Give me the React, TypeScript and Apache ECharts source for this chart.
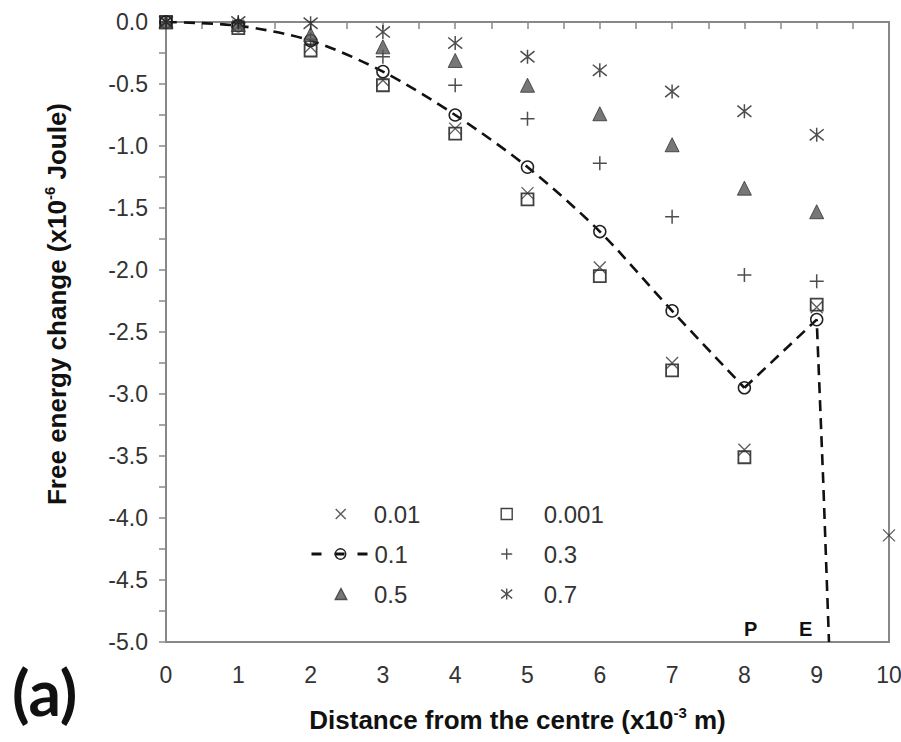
import React, { useEffect, useRef } from "react";
import * as echarts from "echarts";

// ---- data ----
const xs = [0, 1, 2, 3, 4, 5, 6, 7, 8, 9];
const xs10 = [0, 1, 2, 3, 4, 5, 6, 7, 8, 9, 10];
const s0_01 = [0, -0.03, -0.2, -0.47, -0.86, -1.38, -1.98, -2.75, -3.45, -2.3, -4.14];
const s0_001 = [0, -0.05, -0.23, -0.51, -0.9, -1.43, -2.05, -2.81, -3.51, -2.28];
const s0_1 = [0, -0.03, -0.15, -0.4, -0.75, -1.17, -1.69, -2.33, -2.95, -2.4];
const s0_3 = [0, -0.01, -0.14, -0.28, -0.51, -0.78, -1.14, -1.57, -2.04, -2.09];
const s0_5 = [0, -0.02, -0.1, -0.2, -0.31, -0.51, -0.74, -0.99, -1.34, -1.53];
const s0_7 = [0, 0, -0.01, -0.08, -0.17, -0.28, -0.39, -0.56, -0.72, -0.91];
// dashed curve of 0.1 after its last marker, down to the axis
const tailX = [9.09, 9.17];
const tailY = [-3.7, -5.0];

const FONT = "'Liberation Sans', Arial, sans-serif";
const INK = "#222";

const X_SYM = "path://M0,0L10,10M10,0L0,10";
const PLUS_SYM = "path://M5,0L5,10M0,5L10,5";
const AST_SYM = "path://M0,1L10,9M10,1L0,9M5,0L5,10";
const SQ_SYM = "path://M0,0L10,0L10,10L0,10Z";
const TRI_SYM = "path://M5,0L10,9.5L0,9.5Z";

const pairs = (x: number[], y: number[]) => y.map((v, i) => [x[i], v]);

export default function App() {
  const ref = useRef<HTMLDivElement>(null);
  useEffect(() => {
    if (!ref.current) return;
    const chart = echarts.init(ref.current, undefined, { renderer: "svg" });

    const open = { color: "rgba(0,0,0,0)", borderColor: INK, borderWidth: 1.5 };

    const curveMain = pairs(xs, s0_1).slice(0, 9);
    const curveTail: any[] = [
      { value: [xs[8], s0_1[8]], symbol: "none" },
      { value: [xs[9], s0_1[9]] },
      ...tailX.map((x, i) => ({ value: [x, tailY[i]], symbol: "none" })),
    ];

    // icon centre cx, text starts at tx (itemWidth chosen so the text lands there)
    const legendAt = (name: string, cx: number, tx: number, cy: number, s: number) => ({
      data: [name],
      left: cx - s / 2,
      top: cy - 13,
      itemWidth: 2 * (tx - cx - 5),
      itemHeight: s,
      selectedMode: false,
      itemGap: 0,
      padding: 0,
      textStyle: { fontSize: 24, color: "#333", fontFamily: FONT },
      itemStyle: { borderWidth: 1.4 },
    });

    const titleRich = {
      b: { fontSize: 26, fontWeight: "bold", color: "#111", fontFamily: FONT, lineHeight: 30 },
      s: { fontSize: 15, fontWeight: "bold", color: "#111", fontFamily: FONT, verticalAlign: "top", lineHeight: 16 },
    };

    chart.setOption({
      animation: false,
      backgroundColor: "#fff",
      grid: {
        left: 166,
        right: 12,
        top: 22,
        bottom: 100,
        outerBoundsMode: "none",
        show: true,
        borderColor: "#888",
        borderWidth: 2,
      },
      legend: [
        legendAt("0.01", 340, 373, 515, 10),
        legendAt("0.001", 506, 543, 515, 11),
        {
          data: ["0.1"],
          left: 310,
          top: 555 - 13,
          itemWidth: 58,
          itemHeight: 13,
          selectedMode: false,
          padding: 0,
          textStyle: { fontSize: 24, color: "#333", fontFamily: FONT },
          itemStyle: { borderWidth: 1.4 },
          lineStyle: { type: [10, 13], width: 3 },
        },
        legendAt("0.3", 506, 543, 555, 11),
        legendAt("0.5", 340, 373, 595, 11),
        legendAt("0.7", 506, 543, 595, 11),
      ],
      xAxis: {
        type: "value",
        min: 0,
        max: 10,
        interval: 1,
        splitLine: { show: false },
        axisLine: { lineStyle: { color: "#888", width: 2 } },
        axisTick: { show: true, inside: false, length: 7, lineStyle: { color: "#888", width: 1.5 } },
        minorTick: { show: true, splitNumber: 2, length: 7, lineStyle: { color: "#888", width: 1.5 } },
        axisLabel: { fontSize: 23, color: "#333", fontFamily: FONT, margin: 21 },
        name: "{b|Distance from the centre (x10}{s|-3}{b| m)}",
        nameLocation: "middle",
        nameGap: 63,
        nameTextStyle: { padding: [0, 20, 0, 0], rich: titleRich },
      },
      yAxis: {
        type: "value",
        min: -5,
        max: 0,
        interval: 0.5,
        splitLine: { show: false },
        axisLine: { lineStyle: { color: "#888", width: 2 } },
        axisTick: { show: true, inside: false, length: 7, lineStyle: { color: "#888", width: 1.5 } },
        minorTick: { show: true, splitNumber: 2, length: 7, lineStyle: { color: "#888", width: 1.5 } },
        axisLabel: {
          fontSize: 23,
          color: "#333",
          fontFamily: FONT,
          margin: 18,
          formatter: (v: number) => v.toFixed(1),
        },
        name: "{b|Free energy change (x10}{s|-6}{b| Joule)}",
        nameLocation: "middle",
        nameGap: 94,
        nameRotate: 90,
        nameTextStyle: { padding: [0, 0, 0, 56], rich: titleRich },
      },
      series: [
        {
          name: "0.1",
          type: "line",
          data: curveMain,
          smooth: 0.3,
          symbol: "circle",
          symbolSize: 12,
          itemStyle: open,
          lineStyle: { color: "#111", width: 2.6, type: [11, 7] },
          z: 2,
        },
        {
          name: "0.1 tail",
          type: "line",
          data: curveTail,
          smooth: false,
          symbol: "circle",
          symbolSize: 12,
          itemStyle: open,
          lineStyle: { color: "#111", width: 2.6, type: [11, 7] },
          z: 2,
        },
        {
          name: "0.001",
          type: "scatter",
          data: pairs(xs, s0_001),
          symbol: SQ_SYM,
          symbolSize: 12,
          itemStyle: { color: "rgba(0,0,0,0)", borderColor: "#111", borderWidth: 1.8 },
          z: 3,
        },
        {
          name: "0.01",
          type: "scatter",
          data: pairs(xs10, s0_01),
          symbol: X_SYM,
          symbolSize: 12,
          itemStyle: { color: "rgba(0,0,0,0)", borderColor: "#333", borderWidth: 1.3 },
          z: 3,
        },
        {
          name: "0.3",
          type: "scatter",
          data: pairs(xs, s0_3),
          symbol: PLUS_SYM,
          symbolSize: 14,
          itemStyle: { color: "rgba(0,0,0,0)", borderColor: "#222", borderWidth: 1.5 },
          z: 3,
        },
        {
          name: "0.5",
          type: "scatter",
          data: pairs(xs, s0_5),
          symbol: TRI_SYM,
          symbolSize: 14,
          itemStyle: { color: "#555", borderColor: "#333", borderWidth: 1 },
          z: 3,
        },
        {
          name: "0.7",
          type: "scatter",
          data: pairs(xs, s0_7),
          symbol: AST_SYM,
          symbolSize: 14,
          itemStyle: { color: "rgba(0,0,0,0)", borderColor: "#222", borderWidth: 1.5 },
          z: 3,
        },
      ],
      graphic: [
        {
          type: "text",
          left: 12,
          top: 659,
          style: { text: "(a)", font: "bold 64px Lato, 'Open Sans', sans-serif", fill: "#111" },
        },
        {
          type: "text",
          left: 744,
          top: 619,
          style: { text: "P", font: `bold 20px ${FONT}`, fill: "#111" },
        },
        {
          type: "text",
          left: 799,
          top: 619,
          style: { text: "E", font: `bold 20px ${FONT}`, fill: "#111" },
        },
      ],
    });
    return () => chart.dispose();
  }, []);

  return (
    <div
      ref={ref}
      style={{ position: "fixed", left: 0, top: 0, width: 901, height: 742, background: "#fff" }}
    />
  );
}
